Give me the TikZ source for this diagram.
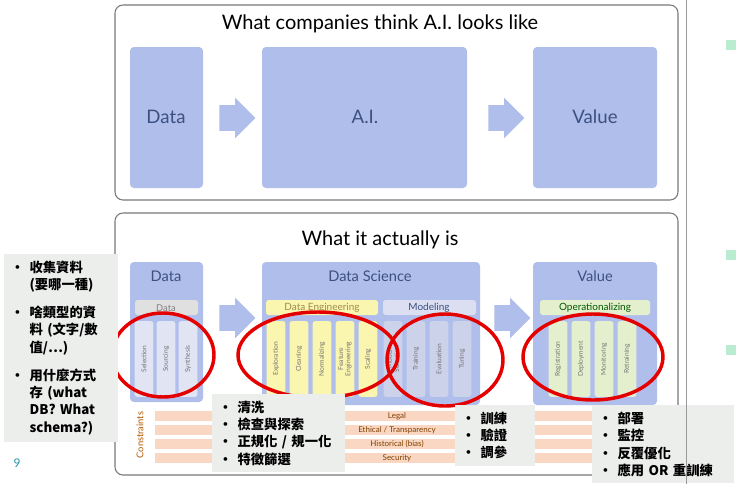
\documentclass[tikz,border=0pt]{standalone}
\usepackage{fontspec}
\setmainfont{Lato}
\newfontfamily\cjk{Noto Sans CJK TC}
\usetikzlibrary{positioning,shapes.arrows}
\definecolor{panel}{RGB}{120,120,120}
\definecolor{blk}{RGB}{175,190,235}
\definecolor{blktxt}{RGB}{60,80,130}
\definecolor{colfill}{RGB}{205,210,235}
\definecolor{yel}{RGB}{250,245,175}
\definecolor{grn}{RGB}{228,240,205}
\definecolor{stripe}{RGB}{250,215,195}
\definecolor{note}{RGB}{236,238,236}
\definecolor{teal}{RGB}{40,150,170}
\newcommand{\bul}{\makebox[14pt][l]{\textbullet}}
\newcommand{\cont}{\hspace*{14pt}}
\begin{document}
\begin{tikzpicture}[x=0.0264cm,y=-0.0264cm]
	\tikzstyle{frame} = [draw=panel, rounded corners=6pt, line width=0.8pt]
	\tikzstyle{block} = [fill=blk, rounded corners=3pt]
	\tikzstyle{arrowbox} = [single arrow, fill=blk, minimum height=0.95cm, inner xsep=0pt, inner ysep=0.33cm, single arrow head extend=0.2cm]
	\tikzstyle{col} = [rounded corners=2pt, minimum width=2cm, minimum height=0.5cm, inner sep=0pt, font=\fontsize{5}{5.5}\selectfont, text=black!55, rotate=90]
	\tikzstyle{ring} = [draw=red!90!black, line width=2.6pt]
	\tikzstyle{notebox} = [fill=note, align=left, anchor=north west, font=\cjk\bfseries\fontsize{10}{13}\selectfont, inner sep=5pt]
	\useasboundingbox (0,0) rectangle (740,484);
	\fill[white] (0,0) rectangle (740,484);
	
	% top panel
	\draw[frame] (115,5) rectangle (678,200);
	\node (title1) at (380,24) {\fontsize{15}{15}\selectfont What companies think A.I. looks like};
	\fill[block] (130,47) rectangle (203,188);
	\fill[block] (262,47) rectangle (467,188);
	\fill[block] (533,47) rectangle (657,188);
	\node[text=blktxt] (data1) at (166,117) {\fontsize{14}{14}\selectfont Data};
	\node[text=blktxt] (ai) at (365,117) {\fontsize{14}{14}\selectfont A.I.};
	\node[text=blktxt] (value1) at (595,117) {\fontsize{14}{14}\selectfont Value};
	\node[arrowbox] (arr1) at (231,118) {};
	\node[arrowbox] (arr2) at (500,118) {};
	
	% bottom panel
	\draw[frame] (115,213) rectangle (678,475);
	\node (title2) at (380,240) {\fontsize{15}{15}\selectfont What it actually is};
	\fill[block] (130,262) rectangle (203,402);
	\fill[block] (262,262) rectangle (480,405);
	\fill[block] (533,262) rectangle (657,405);
	\node[text=blktxt] (data2) at (166,276) {\fontsize{11}{11}\selectfont Data};
	\node[text=blktxt] (ds) at (370,276) {\fontsize{11}{11}\selectfont Data Science};
	\node[text=blktxt] (value2) at (595,276) {\fontsize{11}{11}\selectfont Value};
	\node[arrowbox] (arr3) at (231,318) {};
	\node[arrowbox] (arr4) at (506,318) {};
	
	\fill[black!12, rounded corners=2pt] (135,300) rectangle (198,315);
	\node[text=black!50, font=\fontsize{7}{7}\selectfont] (datasub) at (166,308) {Data};
	\fill[yel, rounded corners=2pt] (266,300) rectangle (378,315);
	\node[text=black!55!yellow!60!brown, font=\fontsize{7.5}{7.5}\selectfont] (de) at (322,308) {Data Engineering};
	\fill[colfill!70!white, rounded corners=2pt] (383,300) rectangle (476,315);
	\node[text=blktxt, font=\fontsize{7.5}{7.5}\selectfont] (modeling) at (429,308) {Modeling};
	\fill[grn, rounded corners=2pt] (540,300) rectangle (650,315);
	\node[text=green!35!black, font=\fontsize{7.5}{7.5}\selectfont] (op) at (595,308) {Operationalizing};
	
	% columns
	\foreach \x/\t in {144/Selection, 166/Sourcing, 188/Synthesis}
		\node[col, fill=colfill!60!white] at (\x,359) {\t};
	\foreach \x/\t in {276/Exploration, 299/Cleaning, 322/Normalizing, 345/{Feature\\Engineering}, 368/Scaling}
		\node[col, fill=yel, align=center] at (\x,359) {\t};
	\foreach \x/\t in {393/{Model\\Selection}, 416/Training, 439/Evaluation, 462/Tuning}
		\node[col, fill=colfill, align=center] at (\x,359) {\t};
	\foreach \x/\t in {558/Registration, 581/Deployment, 604/Monitoring, 627/Retraining}
		\node[col, fill=grn] at (\x,359) {\t};
	
	% constraints
	\node[rotate=90, text=orange!70!black, font=\fontsize{7}{7}\selectfont] (cons) at (140,435) {Constraints};
	\foreach \y/\t in {416/Legal, 430/{Ethical / Transparency}, 444/Historical (bias), 458/Security} {
		\fill[stripe] (155,\y-5) rectangle (660,\y+5);
		\node[text=orange!50!black, font=\fontsize{6}{6}\selectfont] at (397,\y) {\t};
	}
	
	% red rings
	\draw[ring] (163,355) ellipse (51 and 42);
	\draw[ring] (318,355) ellipse (80 and 43);
	\draw[ring] (445,360) ellipse (58 and 46);
	\draw[ring] (593,357) ellipse (70 and 43);
	
	% notes
	\node[notebox, text width=2.65cm] (note1) at (4,254) {
		\bul 收集資料\\\cont (要哪一種)\\[8pt]
		\bul 啥類型的資\\\cont 料 (文字/數\\\cont 值/…)\\[8pt]
		\bul 用什麼方式\\\cont 存 (what\\\cont DB? What\\\cont schema?)};
	\node[notebox, text width=3.15cm] (note2) at (212,394) {\bul 清洗\\\bul 檢查與探索\\\bul 正規化 / 規一化\\\bul 特徵篩選};
	\node[notebox, text width=1.75cm] (note3) at (455,405) {\bul 訓練\\\bul 驗證\\\bul 調參};
	\node[notebox, text width=3.4cm] (note4) at (592,405) {\bul 部署\\\bul 監控\\\bul 反覆優化\\\bul 應用 OR 重訓練};
	\node[text=teal, font=\fontsize{9}{9}\selectfont] (page) at (17,463) {9};
	
	% right edge
	\draw[black!40, line width=0.6pt] (686,0) -- (686,484);
	\foreach \y in {45,255,350}
		\fill[green!40!teal!30] (726,\y-5) rectangle (736,\y+5);
\end{tikzpicture}
\end{document}
